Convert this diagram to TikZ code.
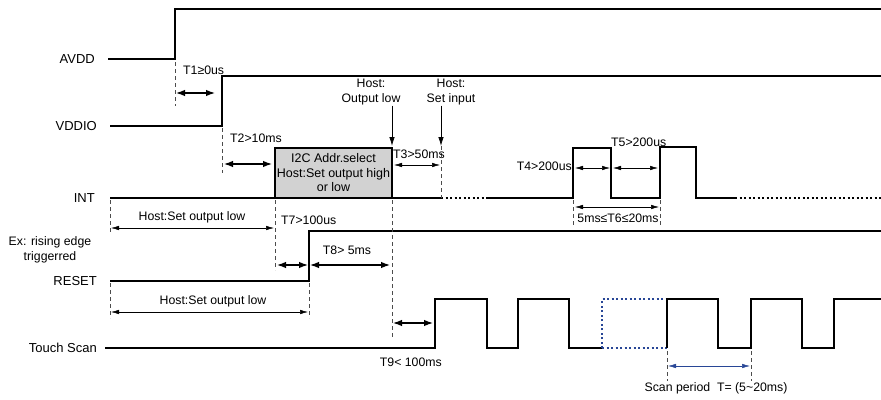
\documentclass[tikz,border=0pt]{standalone}
\usepackage{fontspec}
\setmainfont{Liberation Sans}
\usetikzlibrary{arrows.meta}
\definecolor{scanblue}{RGB}{40,70,150}

\begin{document}
\begin{tikzpicture}[x=1pt,y=-1pt,
    sig/.style={line width=1.5pt},
    dots/.style={dash pattern=on 2pt off 2.5pt},
    guide/.style={black!70, line width=0.6pt, dash pattern=on 4pt off 3pt},
    dimthick/.style={{Latex[length=9pt,width=6.5pt]}-{Latex[length=9pt,width=6.5pt]}, line width=1.2pt},
    dimthin/.style={{Latex[length=8pt,width=4.5pt]}-{Latex[length=8pt,width=4.5pt]}, line width=0.5pt},
    hostarrow/.style={-{Latex[length=9pt,width=5.5pt]}, line width=0.8pt},
    lbl/.style={font=\fontsize{13}{14}\selectfont, anchor=east, inner sep=0pt},
    note/.style={font=\fontsize{12.3}{15}\selectfont, inner sep=0pt, align=center}]

    % Page frame
    \useasboundingbox (0,0) rectangle (881,399);

    % Signal names
    \node[lbl] (avdd) at (95,59) {AVDD};
    \node[lbl] (vddio) at (97,126) {VDDIO};
    \node[lbl] (int) at (95,198) {INT};
    \node[lbl] (reset) at (97,281) {RESET};
    \node[lbl] (scan) at (97,348) {Touch Scan};
    \node[note] (edge) at (50,250) {Ex: rising edge\\triggerred};

    % AVDD and VDDIO
    \draw[sig] (108,59) -- (175,59) -- (175,9) -- (881,9);
    \draw[sig] (110,126) -- (222,126) -- (222,76) -- (881,76);

    % INT with the address select box
    \node[draw, sig, fill=gray!35, minimum width=117pt, minimum height=50pt,
          font=\fontsize{12.5}{14.5}\selectfont, align=center, inner sep=0pt]
          (i2c) at (333.5,173) {I2C Addr.select\\Host:Set output high\\or low};
    \draw[sig] (110,198) -- (441,198);
    \draw[sig, dots] (441,198) -- (488,198);
    \draw[sig] (488,198) -- (573,198) -- (573,148) -- (611,148) -- (611,198)
        -- (660,198) -- (660,147) -- (696,147) -- (696,198) -- (735,198);
    \draw[sig, dots] (735,198) -- (881,198);

    % RESET
    \draw[sig] (110,281) -- (309,281) -- (309,231) -- (881,231);

    % Touch Scan
    \draw[sig] (105,348) -- (435,348) -- (435,299) -- (487,299) -- (487,348)
        -- (518,348) -- (518,299) -- (569,299) -- (569,348) -- (602,348);
    \draw[sig, dots, scanblue] (602,348) -- (602,299) -- (667,299);
    \draw[sig, dots, scanblue] (602,348) -- (667,348);
    \draw[sig] (667,348) -- (667,299) -- (718,299) -- (718,348) -- (751,348)
        -- (751,299) -- (802,299) -- (802,348) -- (834,348) -- (834,299) -- (881,299);

    % Guide lines
    \draw[guide] (175,62) -- (175,106);
    \draw[guide] (222,128) -- (222,173);
    \draw[guide] (275,200) -- (275,270);
    \draw[guide] (392,200) -- (392,337);
    \draw[guide] (441,146) -- (441,198);
    \draw[guide] (110,200) -- (110,232);
    \draw[guide] (110,283) -- (110,318);
    \draw[guide] (309,283) -- (309,318);
    \draw[guide] (573,200) -- (573,226);
    \draw[guide] (660,200) -- (660,226);
    \draw[guide] (667,351) -- (667,381);
    \draw[guide] (751,351) -- (751,381);

    % Host commands
    \node[note] (hostlow) at (371,92.5) {Host:\\Output low};
    \node[note] (hostin) at (451,92.5) {Host:\\Set input};
    \coordinate (lowtip) at (392,146);
    \coordinate (intip) at (441,146);
    \draw[hostarrow] (hostlow.south -| lowtip) -- (lowtip);
    \draw[hostarrow] (hostin.south -| intip) -- (intip);

    % Timing labels
    \node[note, anchor=west] (t1) at (183,70) {T1≥0us};
    \node[note, anchor=west] (t2) at (230,138) {T2>10ms};
    \node[note, anchor=west] (t3) at (393,154) {T3>50ms};
    \node[note, anchor=east] (t4) at (572,166) {T4>200us};
    \node[note, anchor=west] (t5) at (611,142) {T5>200us};
    \node[note] (t6) at (618,218) {5ms≤T6≤20ms};
    \node[note, anchor=west] (t7) at (281,220) {T7>100us};
    \node[note] (t8) at (347,250) {T8> 5ms};
    \node[note, anchor=east] (t9) at (442,362) {T9< 100ms};
    \node[note] (hold1) at (192,217) {Host:Set output low};
    \node[note] (hold2) at (213,301) {Host:Set output low};
    \node[note] (period) at (716,388) {Scan period\ \ T= (5\textasciitilde 20ms)};

    % Timing arrows
    \draw[dimthick] (176,93) -- (215,93);
    \draw[dimthick] (224,164) -- (272,164);
    \draw[dimthin] (394,165) -- (440,165);
    \draw[dimthin] (111,228) -- (274,228);
    \draw[dimthick] (277,265) -- (308,265);
    \draw[dimthick] (310,265) -- (390,265);
    \draw[dimthin] (111,312) -- (308,312);
    \draw[dimthin] (575,168) -- (610,168);
    \draw[dimthin] (613,168) -- (658,168);
    \draw[dimthin] (575,207) -- (659,207);
    \draw[dimthick] (393,323) -- (433,323);
    \draw[dimthin, scanblue] (668,366) -- (750,366);
\end{tikzpicture}
\end{document}
